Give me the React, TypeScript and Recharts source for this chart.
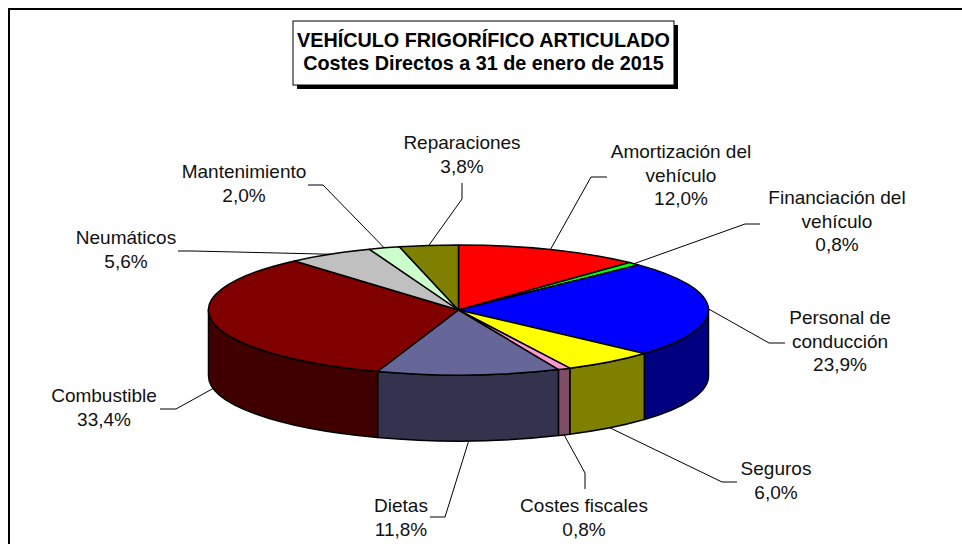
import { PieChart, Pie } from 'recharts';

const FONT = '"Liberation Sans", Arial, sans-serif';

const categories = [
  'Amortización del\nvehículo',
  'Financiación del\nvehículo',
  'Personal de\nconducción',
  'Seguros',
  'Costes fiscales',
  'Dietas',
  'Combustible',
  'Neumáticos',
  'Mantenimiento',
  'Reparaciones',
];
const shares = [12.0, 0.8, 23.9, 6.0, 0.8, 11.8, 33.4, 5.6, 2.0, 3.8];
const topColors = ['#ff0000', '#00ff00', '#0000ff', '#ffff00', '#ff99cc', '#666699', '#800000', '#c0c0c0', '#ccffcc', '#808000'];
const wallColors = ['#800000', '#008000', '#000080', '#808000', '#804d66', '#33334d', '#400000', '#606060', '#668066', '#404000'];
const titleLines = ['VEHÍCULO FRIGORÍFICO ARTICULADO', 'Costes Directos a 31 de enero de 2015'];

// where each label sits: centre x, first baseline, then the leader's elbow and its free end
const labelCentre = [681, 837, 840, 776, 584, 401, 104, 126, 244, 462];
const labelBaseline = [158, 204, 324, 475, 512, 512, 402, 244, 178, 149];
const leaderElbow = [[591, 177], [745, 224], [769, 343], [722, 482], [585, 473], [445, 517], [176, 409], [193, 251], [323, 185], [462, 199]];
const leaderEnd = [[607, 177], [760, 224], [785, 343], [737, 482], [585, 489], [430, 517], [160, 409], [178, 251], [308, 185], [462, 183]];

const tableData = categories.map((name, i) => ({
  name,
  value: shares[i],
  fill: topColors[i],
  wall: wallColors[i],
}));

const SQUASH = 0.26;
const DEPTH = 66;
const RAD = Math.PI / 180;

const rim = (cx: number, cy: number, r: number, deg: number) => [
  cx + r * Math.cos(deg * RAD),
  cy - r * SQUASH * Math.sin(deg * RAD),
];

function TopSlice(props: any) {
  const { cx, cy, outerRadius: r, startAngle, endAngle, fill } = props;
  const [x1, y1] = rim(cx, cy, r, startAngle);
  const [x2, y2] = rim(cx, cy, r, endAngle);
  const large = Math.abs(startAngle - endAngle) > 180 ? 1 : 0;
  const d = `M${cx},${cy}L${x1},${y1}A${r},${r * SQUASH} 0 ${large} 1 ${x2},${y2}Z`;
  return <path d={d} fill={fill} stroke="#000" strokeWidth={1.5} strokeLinejoin="round" />;
}

function WallSlice(props: any) {
  const { cx, cy, outerRadius: r, startAngle, endAngle, payload } = props;
  // only the front half of the rim (-180..0) shows a wall
  const a = Math.min(startAngle, 0);
  const b = Math.max(endAngle, -180);
  if (a <= b) return <g />;
  const [x1, y1] = rim(cx, cy, r, a);
  const [x2, y2] = rim(cx, cy, r, b);
  const ry = r * SQUASH;
  const d = `M${x1},${y1}A${r},${ry} 0 0 1 ${x2},${y2}L${x2},${y2 + DEPTH}A${r},${ry} 0 0 0 ${x1},${y1 + DEPTH}Z`;
  return <path d={d} fill={payload.wall} stroke="#000" strokeWidth={1.5} strokeLinejoin="round" />;
}

function SliceLabel(props: any) {
  const { cx, cy, outerRadius: r, midAngle, index } = props;
  const [sx, sy0] = rim(cx, cy, r, midAngle);
  const sy = Math.sin(midAngle * RAD) < 0 ? sy0 + DEPTH : sy0;
  const [ex, ey] = leaderElbow[index];
  const [fx, fy] = leaderEnd[index];
  const lines = [...categories[index].split('\n'), `${shares[index].toFixed(1).replace('.', ',')}%`];
  return (
    <g>
      <polyline points={`${sx},${sy} ${ex},${ey} ${fx},${fy}`} fill="none" stroke="#000" strokeWidth={1} />
      <text textAnchor="middle" fontFamily={FONT} fontSize={19} fill="#111">
        {lines.map((line, i) => (
          <tspan key={i} x={labelCentre[index]} y={labelBaseline[index] + i * 23.5}>{line}</tspan>
        ))}
      </text>
    </g>
  );
}

export default function App() {
  return (
    <div style={{ position: 'absolute', left: 0, top: 0 }}>
      <PieChart width={962} height={544} margin={{ top: 0, right: 0, bottom: 0, left: 0 }}>
        <line x1={8} y1={9} x2={962} y2={9} stroke="#000" strokeWidth={2} />
        <line x1={9} y1={8} x2={9} y2={544} stroke="#000" strokeWidth={2} />
        <Pie
          data={tableData} dataKey="value" cx={458.5} cy={310} outerRadius={250}
          startAngle={90} endAngle={-270} shape={WallSlice} label={false} labelLine={false}
          isAnimationActive={false}
        />
        <Pie
          data={tableData} dataKey="value" cx={458.5} cy={310} outerRadius={250}
          startAngle={90} endAngle={-270} shape={TopSlice} label={SliceLabel} labelLine={false}
          isAnimationActive={false}
        />
        <rect x={297} y={25} width={381} height={64} fill="#000" />
        <rect x={293} y={21} width={381} height={64} fill="#fff" stroke="#000" strokeWidth={1} />
        <text textAnchor="middle" fontFamily={FONT} fontSize={19.8} fontWeight="bold" fill="#000">
          {titleLines.map((line, i) => (
            <tspan key={i} x={483.5} y={47 + i * 22.5}>{line}</tspan>
          ))}
        </text>
      </PieChart>
    </div>
  );
}
